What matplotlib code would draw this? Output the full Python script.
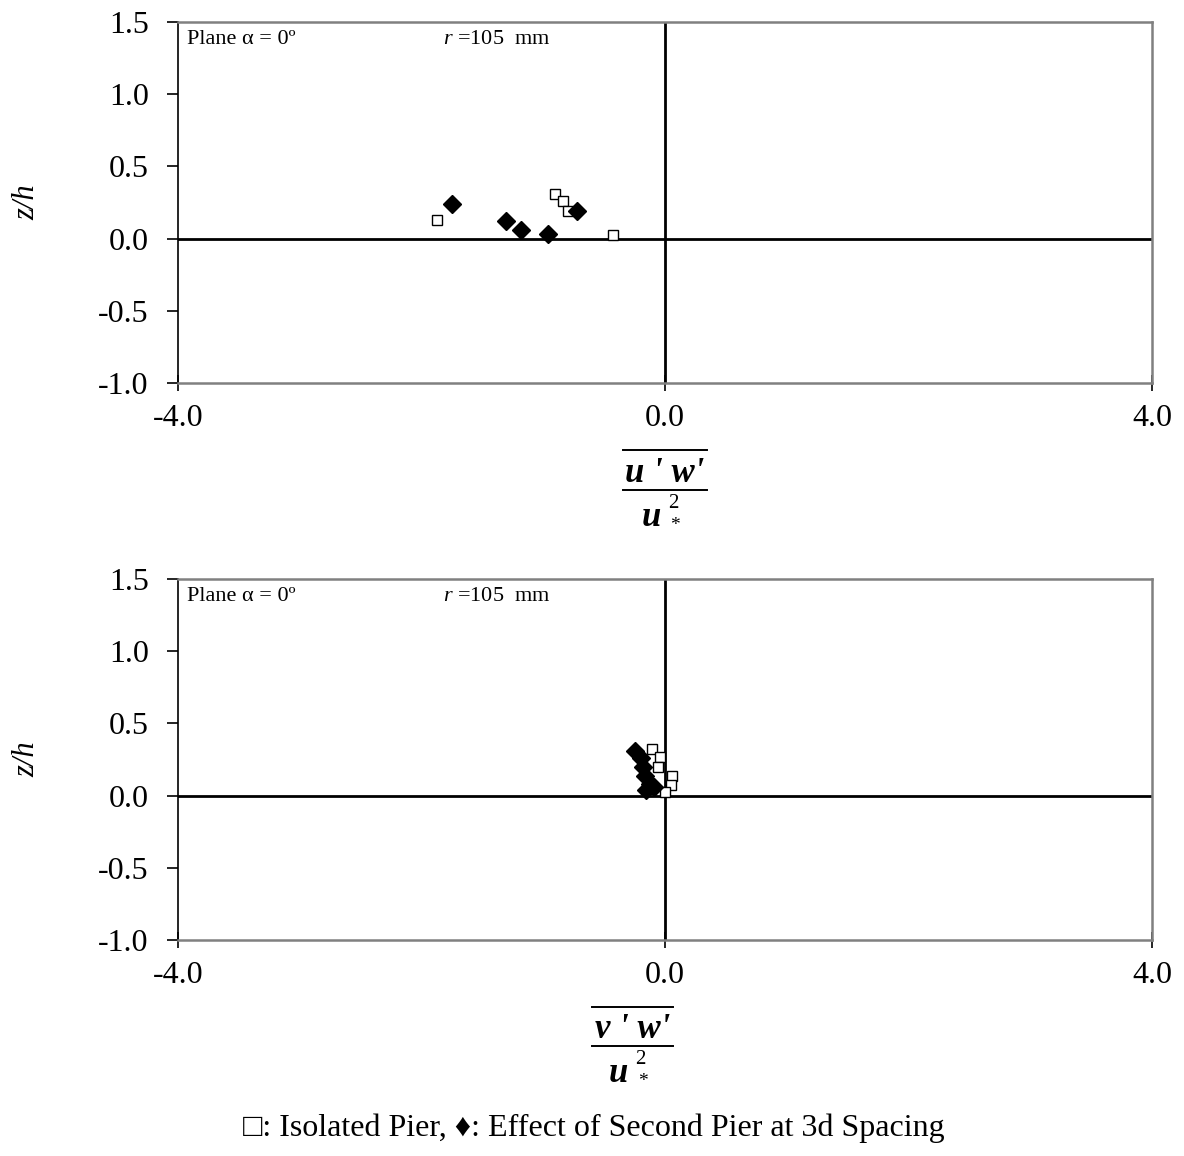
import matplotlib
matplotlib.use("Agg")
import matplotlib.pyplot as plt
from matplotlib.lines import Line2D

plt.rcParams['font.family'] = ['Liberation Serif', 'DejaVu Serif']
plt.rcParams['mathtext.fontset'] = 'custom'
plt.rcParams['mathtext.rm'] = 'Liberation Serif'
plt.rcParams['mathtext.it'] = 'Liberation Serif:italic'

# Data: top panel (u'w'/u*^2 vs z/h)
uw_iso_x = [-1.87, -0.90, -0.84, -0.80, -0.43]
uw_iso_z = [0.13, 0.31, 0.26, 0.19, 0.025]
uw_sec_x = [-1.75, -1.31, -1.18, -0.96, -0.72]
uw_sec_z = [0.24, 0.12, 0.06, 0.03, 0.19]

# Data: bottom panel (v'w'/u*^2 vs z/h)
vw_iso_x = [-0.11, -0.04, -0.055, 0.055, 0.047, 0.0]
vw_iso_z = [0.32, 0.27, 0.20, 0.135, 0.07, 0.027]
vw_sec_x = [-0.245, -0.20, -0.18, -0.165, -0.12, -0.16, -0.09]
vw_sec_z = [0.31, 0.26, 0.20, 0.135, 0.08, 0.04, 0.06]

xticks = [-4.0, 0.0, 4.0]
yticks = [-1.0, -0.5, 0.0, 0.5, 1.0, 1.5]

W, H = 1184, 1156
fig = plt.figure(figsize=(W / 100, H / 100), dpi=100)

def fx(px):
    return px / W

def fy(py):
    return 1 - py / H

def make_ax(top_px, bot_px, isox, isoz, secx, secz):
    ax = fig.add_axes([fx(178), fy(bot_px), fx(1152) - fx(178), fy(top_px) - fy(bot_px)])
    ax.set_xlim(-4, 4)
    ax.set_ylim(-1.0, 1.5)
    ax.axhline(0, color='black', lw=2.0, zorder=1)
    ax.axvline(0, color='black', lw=2.0, zorder=1)
    ax.plot(isox, isoz, linestyle='none', marker='s', markersize=7.5,
            markerfacecolor='white', markeredgecolor='black', markeredgewidth=1.0, zorder=3)
    ax.plot(secx, secz, linestyle='none', marker='D', markersize=9,
            markerfacecolor='black', markeredgecolor='black', zorder=4)
    ax.set_xticks(xticks)
    ax.set_xticklabels([f"{v:.1f}" for v in xticks])
    ax.set_yticks(yticks)
    ax.set_yticklabels([f"{v:.1f}" for v in yticks])
    for s in ['top', 'right', 'bottom']:
        ax.spines[s].set_color('#808080')
        ax.spines[s].set_linewidth(1.8)
    ax.spines['left'].set_color('black')
    ax.spines['left'].set_linewidth(1.2)
    ax.tick_params(axis='y', direction='out', length=8, width=1.2, labelsize=23, pad=13)
    ax.tick_params(axis='x', direction='inout', length=12, width=1.2, labelsize=23, pad=9)
    ax.set_ylabel('z/h', fontsize=22, style='italic')
    ax.yaxis.set_label_coords(-0.140, 0.5)
    ax.text(0.009, 0.978, 'Plane α = 0º', transform=ax.transAxes, fontsize=16,
            ha='left', va='top')
    ax.text(0.272, 0.978, r'$r$ =105  mm', transform=ax.transAxes, fontsize=16,
            ha='left', va='top')
    return ax

ax1 = make_ax(22, 383, uw_iso_x, uw_iso_z, uw_sec_x, uw_sec_z)
ax2 = make_ax(579, 940, vw_iso_x, vw_iso_z, vw_sec_x, vw_sec_z)

def frac_label(x0, x1, y_over, y_bar, num):
    cx = (x0 + x1) / 2
    fig.add_artist(Line2D([fx(x0), fx(x1)], [fy(y_over), fy(y_over)], color='black', lw=1.4))
    fig.add_artist(Line2D([fx(x0), fx(x1)], [fy(y_bar), fy(y_bar)], color='black', lw=1.4))
    fig.text(fx(cx), fy(y_bar - 16), num, ha='center', va='center',
             fontsize=25, fontweight='bold', style='italic')
    fig.text(fx(cx - 14), fy(y_bar + 28), 'u', ha='center', va='center',
             fontsize=25, fontweight='bold', style='italic')
    fig.text(fx(cx + 8), fy(y_bar + 14), '2', ha='center', va='center', fontsize=15)
    fig.text(fx(cx + 10), fy(y_bar + 36), '*', ha='center', va='center', fontsize=14)

frac_label(623, 707, 450, 490, "u ' w'")
frac_label(592, 673, 1007, 1046, "v ' w'")

fig.text(fx(594), fy(1128), '□: Isolated Pier, ♦: Effect of Second Pier at 3d Spacing',
         ha='center', va='center', fontsize=23)

fig.savefig('out.png', dpi=100)
